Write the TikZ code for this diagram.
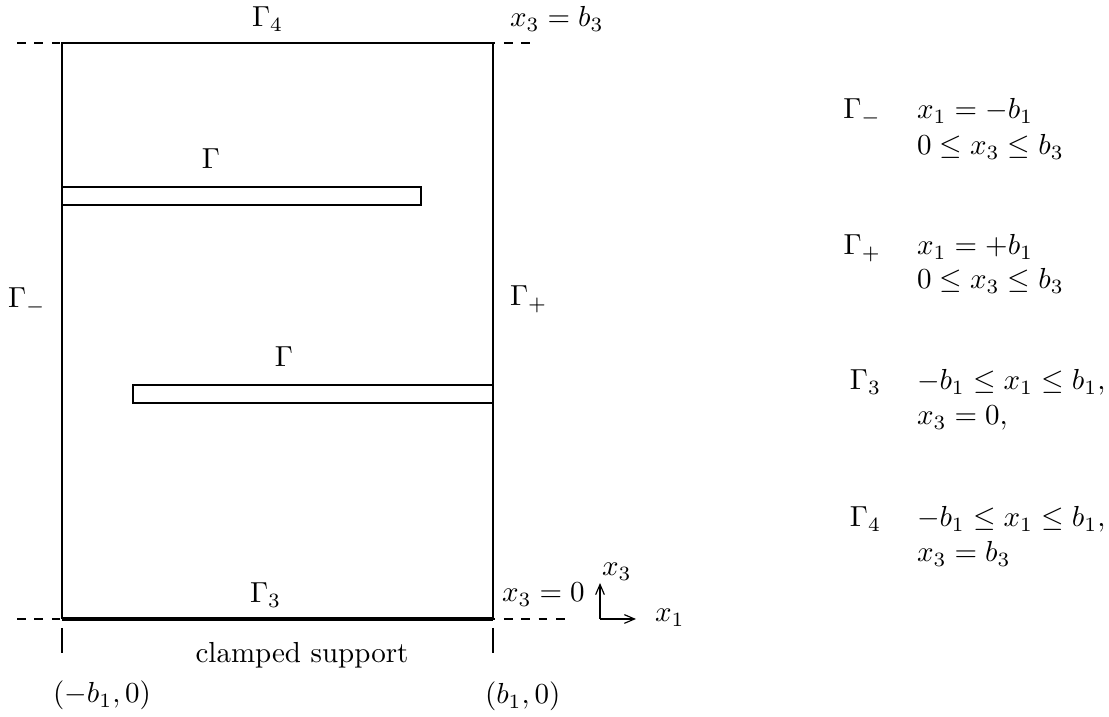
\documentclass[tikz,border=0pt]{standalone}
\usetikzlibrary{arrows.meta}
\tikzset{
  lbl/.style={inner sep=0pt, outer sep=0pt},
  thin line/.style={line width=0.4pt},
  guide/.style={dashed, line width=0.4pt},
  support/.style={line width=1.2pt},
  axisarrow/.style={line width=0.4pt, -{Straight Barb[length=3.5pt,width=3pt]}}
}
\begin{document}
\begin{tikzpicture}[x=0.345pt,y=-0.345pt]
\useasboundingbox (0,0) rectangle (1109,717);
% corners
\coordinate (TL) at (62,43);
\coordinate (TR) at (493,43);
\coordinate (BL) at (62,619);
\coordinate (BR) at (493,619);
\coordinate (dTL) at (17,43);
\coordinate (dTR) at (537,43);
\coordinate (dBL) at (17,619);
\coordinate (dBR) at (565,619);
% dashed guide lines
\draw[guide] (dTL) -- (dTR);
\draw[guide] (dBL) -- (dBR);
% main frame
\draw[thin line] (BL) -- (TL) -- (TR) -- (BR);
\draw[support] (BL) -- (BR);
% ticks
\coordinate (t1a) at (62,628); \coordinate (t1b) at (62,653);
\coordinate (t2a) at (493,628); \coordinate (t2b) at (493,653);
\draw[thin line] (t1a) -- (t1b);
\draw[thin line] (t2a) -- (t2b);
% cracks
\coordinate (r1a) at (62,187); \coordinate (r1b) at (421,205);
\coordinate (r2a) at (133,385); \coordinate (r2b) at (493,403);
\draw[thin line] (r1a) rectangle (r1b);
\draw[thin line] (r2a) rectangle (r2b);
% axes
\coordinate (O) at (600,619);
\coordinate (Ax3) at (600,583);
\coordinate (Ax1) at (636,619);
\draw[axisarrow] (O) -- (Ax3);
\draw[axisarrow] (O) -- (Ax1);
% labels
\node[lbl, anchor=base west] (g4) at (252,27) {$\Gamma_4$};
\node[lbl, anchor=base west] (xb3) at (510,27) {$x_3=b_3$};
\node[lbl, anchor=base] (g1) at (211,169) {$\Gamma$};
\node[lbl, anchor=base] (g2) at (284,367) {$\Gamma$};
\node[lbl, anchor=base west] (gm) at (8,308) {$\Gamma_-$};
\node[lbl, anchor=base west] (gp) at (510,306) {$\Gamma_+$};
\node[lbl, anchor=base west] (g3) at (250,603) {$\Gamma_3$};
\node[lbl, anchor=base west] (x30) at (502,602) {$x_3=0$};
\node[lbl, anchor=base] (cs) at (302,663) {clamped support};
\node[lbl, anchor=base west] (pl) at (53,703) {$(-b_1,0)$};
\node[lbl, anchor=base west] (pr) at (485,704) {$(b_1,0)$};
\node[lbl, anchor=base west] (lx3) at (602,576) {$x_3$};
\node[lbl, anchor=base west] (lx1) at (655,622) {$x_1$};
% legend
\node[lbl, anchor=base east] (Lm) at (881,119) {$\Gamma_-$};
\node[lbl, anchor=base west] (Lm1) at (917,119) {$x_1=-b_1$};
\node[lbl, anchor=base west] (Lm2) at (917,155) {$0\le x_3\le b_3$};
\node[lbl, anchor=base east] (Lp) at (881,255) {$\Gamma_+$};
\node[lbl, anchor=base west] (Lp1) at (917,255) {$x_1=+b_1$};
\node[lbl, anchor=base west] (Lp2) at (917,289) {$0\le x_3\le b_3$};
\node[lbl, anchor=base east] (L3) at (881,390) {$\Gamma_3$};
\node[lbl, anchor=base west] (L31) at (917,390) {$-b_1\le x_1\le b_1,$};
\node[lbl, anchor=base west] (L32) at (917,425) {$x_3=0,$};
\node[lbl, anchor=base east] (L4) at (881,527) {$\Gamma_4$};
\node[lbl, anchor=base west] (L41) at (917,527) {$-b_1\le x_1\le b_1,$};
\node[lbl, anchor=base west] (L42) at (917,562) {$x_3=b_3$};
\end{tikzpicture}
\end{document}
